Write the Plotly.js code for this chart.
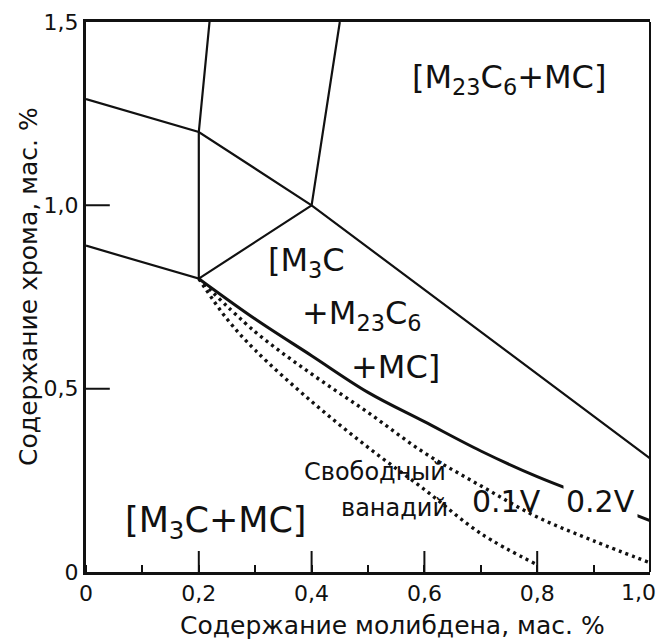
<!DOCTYPE html>
<html>
<head>
<meta charset="utf-8">
<script src="https://cdn.plot.ly/plotly-3.0.1.min.js"></script>
<style>
  html, body { margin: 0; padding: 0; background: #fff; }
  #chart { width: 659px; height: 641px; }
</style>
</head>
<body>
<div id="chart"></div>
<script>
// Phase boundaries: Mo (x, wt.%) vs Cr (y, wt.%)
const upperBoundaryX = [0, 0.2, 0.4, 1.0];
const upperBoundaryY = [1.29, 1.2, 1.0, 0.31];

const leftVerticalX = [0.219, 0.2, 0.2];
const leftVerticalY = [1.5, 1.2, 0.8];

const lowerBoundaryX = [0, 0.2, 0.4, 0.45];
const lowerBoundaryY = [0.89, 0.8, 1.0, 1.5];

// Solid limit curve (thick)
const solidCurveX = [0.2, 0.3, 0.4, 0.5, 0.6, 0.7, 0.8, 0.9, 1.0];
const solidCurveY = [0.8, 0.69, 0.59, 0.49, 0.41, 0.33, 0.26, 0.2, 0.14];

// Dotted curves for free vanadium
const dotUpperX = [0.2, 0.3, 0.4, 0.5, 0.6, 0.7, 0.8, 0.9, 1.0];
const dotUpperY = [0.8, 0.655, 0.54, 0.435, 0.325, 0.235, 0.15, 0.085, 0.025];

const dotLowerX = [0.2, 0.25, 0.3, 0.4, 0.5, 0.6, 0.7, 0.8];
const dotLowerY = [0.8, 0.69, 0.605, 0.465, 0.34, 0.225, 0.105, 0.02];

// Axis ticks
const xTickVals = [0, 0.2, 0.4, 0.6, 0.8, 1.0];
const xTickText = ['0', '0,2', '0,4', '0,6', '0,8', '1,0'];
const yTickVals = [0, 0.5, 1.0, 1.5];
const yTickText = ['0', '0,5', '1,0', '1,5'];

const INK = '#111';
const FONT = 'DejaVu Sans, sans-serif';
const lastX = xTickVals.length - 1;
const lastY = yTickVals.length - 1;

function line(x, y, width, dash, shape) {
  return {
    x: x, y: y, type: 'scatter', mode: 'lines', hoverinfo: 'skip',
    line: { color: INK, width: width, dash: dash || 'solid', shape: shape || 'linear', smoothing: 1 }
  };
}

// Inner major tick marks: line markers centred on the axis, the outer half clipped away
function tickMarks(x, y, symbol, size) {
  return {
    x: x, y: y, type: 'scatter', mode: 'markers', hoverinfo: 'skip', cliponaxis: true,
    marker: { symbol: symbol, size: size, color: INK, line: { color: INK, width: 2 } }
  };
}

const innerXTicks = xTickVals.slice(1, lastX);
const innerYTicks = yTickVals.slice(1, lastY);

const traces = [
  line(upperBoundaryX, upperBoundaryY, 2.2),
  line(leftVerticalX, leftVerticalY, 2.2),
  line(lowerBoundaryX, lowerBoundaryY, 2.2),
  line(dotUpperX, dotUpperY, 3.4, '3px,4px', 'spline'),
  line(dotLowerX, dotLowerY, 3.4, '3px,4px', 'spline'),
  line(solidCurveX, solidCurveY, 3, 'solid', 'spline'),
  tickMarks(innerXTicks, innerXTicks.map(function () { return yTickVals[0]; }), 'line-ns', 30),
  tickMarks(innerYTicks.map(function () { return xTickVals[0]; }), innerYTicks, 'line-ew', 34)
];

function label(text, x, y, size, xanchor, extra) {
  return Object.assign({
    text: text, x: x, y: y, xref: 'x', yref: 'y',
    xanchor: xanchor || 'left', yanchor: 'middle',
    showarrow: false, font: { family: FONT, size: size, color: INK }
  }, extra || {});
}

const annotations = [
  label('[M<sub>23</sub>C<sub>6</sub>+MC]', 0.75, 1.344, 32, 'center'),
  label('[M<sub>3</sub>C', 0.32, 0.845, 32),
  label('+M<sub>23</sub>C<sub>6</sub>', 0.379, 0.7, 32),
  label('+MC]', 0.467, 0.56, 32),
  label('[M<sub>3</sub>C+MC]', 0.066, 0.135, 35),
  label('Свободный', 0.641, 0.273, 24, 'right'),
  label('ванадий', 0.645, 0.175, 24, 'right'),
  label('0.1V', 0.68, 0.191, 30),
  label('0.2V', 0.845, 0.191, 30, 'left', { bgcolor: '#fff', borderpad: 2 }),
  // last x tick label sits just inside the right edge
  {
    text: xTickText[lastX], x: xTickVals[lastX], xref: 'x', y: 0, yref: 'paper',
    xanchor: 'right', yanchor: 'top', yshift: -6, xshift: 8, showarrow: false,
    font: { family: FONT, size: 22, color: INK }
  },
  {
    text: 'Содержание молибдена, мас. %', xref: 'paper', yref: 'paper',
    x: 0.544, y: -0.097, xanchor: 'center', yanchor: 'middle', showarrow: false,
    font: { family: FONT, size: 25, color: INK }
  },
  {
    text: 'Содержание хрома, мас. %', xref: 'paper', yref: 'paper',
    x: -0.103, y: 0.52, xanchor: 'center', yanchor: 'middle', textangle: -90, showarrow: false,
    font: { family: FONT, size: 25, color: INK }
  }
];

const layout = {
  width: 659, height: 641,
  margin: { l: 86, r: 9, t: 22, b: 69 },
  paper_bgcolor: '#fff', plot_bgcolor: '#fff',
  showlegend: false,
  font: { family: FONT, color: INK },
  xaxis: {
    range: [0, 1.0], showgrid: false, zeroline: false,
    showline: true, linewidth: 3, linecolor: INK, mirror: true,
    tickmode: 'array', ticks: '',
    tickvals: xTickVals.slice(0, lastX), ticktext: xTickText.slice(0, lastX),
    tickfont: { family: FONT, size: 22, color: INK },
    minor: { dtick: 0.1, ticks: 'inside', ticklen: 7, tickwidth: 2, tickcolor: INK, showgrid: false }
  },
  yaxis: {
    range: [0, 1.5], showgrid: false, zeroline: false,
    showline: true, linewidth: 3, linecolor: INK, mirror: false,
    tickmode: 'array', tickvals: yTickVals, ticktext: yTickText,
    ticks: '',
    tickfont: { family: FONT, size: 22, color: INK }
  },
  shapes: [
    { type: 'line', xref: 'x domain', yref: 'y domain', x0: 1, x1: 1, y0: 0, y1: 1,
      line: { color: INK, width: 2 } }
  ],
  annotations: annotations
};

Plotly.newPlot('chart', traces, layout, { displayModeBar: false, staticPlot: true });
</script>
</body>
</html>
